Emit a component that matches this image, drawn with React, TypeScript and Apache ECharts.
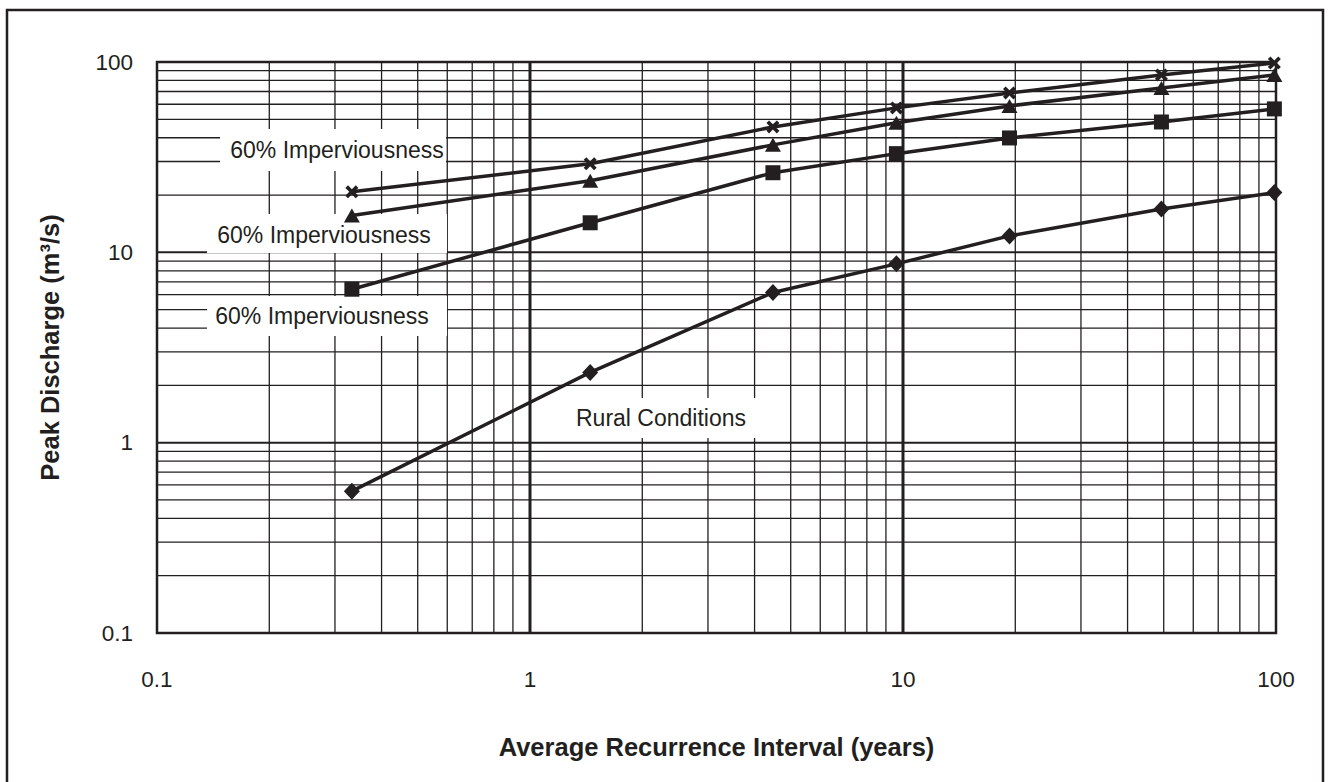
import React, { useEffect, useRef } from "react";
import * as echarts from "echarts";

// ---- Data ----
const recurrenceYears = [0.333, 1.45, 4.48, 9.6, 19.3, 49.3, 99];
const imperviousCross = [20.8, 29.2, 45.6, 57.4, 68.8, 85.5, 98.8];
const imperviousTriangle = [15.6, 23.8, 36.7, 47.9, 58.8, 73.1, 85.5];
const imperviousSquare = [6.4, 14.3, 26.2, 33, 39.9, 48.4, 56.7];
const ruralDiamond = [0.556, 2.34, 6.15, 8.7, 12.2, 16.9, 20.6];

// ---- Axis structure ----
const axisMin = 0.1;
const axisMax = 100;
const tickLabels = ["0.1", "1", "10", "100"];
const decadeStarts = [0.1, 1, 10];
const minorMultipliers = [2, 3, 4, 5, 6, 7, 8, 9];
const majorLines = [1, 10];

const INK = "#231f20";
const FONT = "'Liberation Sans', Arial, Helvetica, sans-serif";
const CROSS = "path://M2,0 L5,3 L8,0 L10,2 L7,5 L10,8 L8,10 L5,7 L2,10 L0,8 L3,5 L0,2 Z";

const minorLines = decadeStarts.flatMap((d) =>
  minorMultipliers.map((m) => Number((d * m).toPrecision(3)))
);

function gridSeries(values: number[], vertical: boolean, width: number) {
  return {
    type: "custom",
    silent: true,
    z: 1,
    data: values.map((v) => (vertical ? [v, 1] : [1, v])),
    renderItem: (_p: any, api: any) => {
      const v = api.value(vertical ? 0 : 1);
      const a = vertical ? api.coord([v, axisMin]) : api.coord([axisMin, v]);
      const b = vertical ? api.coord([v, axisMax]) : api.coord([axisMax, v]);
      return {
        type: "line",
        shape: { x1: a[0], y1: a[1], x2: b[0], y2: b[1] },
        style: { stroke: INK, lineWidth: width },
      };
    },
  };
}

function dataSeries(name: string, values: number[], symbol: string, size: number | number[]) {
  return {
    type: "line",
    name,
    z: 5,
    data: recurrenceYears.map((x, i) => [x, values[i]]),
    symbol,
    symbolSize: size,
    showAllSymbol: true,
    lineStyle: { color: INK, width: 3.5 },
    itemStyle: { color: INK, borderWidth: 0 },
    emphasis: { disabled: true },
  };
}

function labelBox(x: number, y: number, w: number, h: number, cx: number, cy: number, text: string) {
  return [
    {
      type: "rect",
      z: 3,
      silent: true,
      shape: { x, y, width: w, height: h },
      style: { fill: "#ffffff", stroke: null },
    },
    {
      type: "text",
      z: 4,
      silent: true,
      x: cx,
      y: cy,
      style: {
        text,
        fill: INK,
        fontSize: 23,
        fontFamily: FONT,
        align: "center",
        verticalAlign: "middle",
        textAlign: "center",
        textVerticalAlign: "middle",
      },
    },
  ];
}

export default function App() {
  const ref = useRef<HTMLDivElement>(null);

  useEffect(() => {
    if (!ref.current) return;
    const chart = echarts.init(ref.current, null, { renderer: "svg" });
    const labelFmt = (v: number) => tickLabels[Math.round(Math.log10(v)) + 1] ?? "";
    chart.setOption({
      animation: false,
      backgroundColor: "#ffffff",
      grid: {
        left: 157,
        top: 62,
        right: 54,
        bottom: 149,
        show: true,
        borderColor: INK,
        borderWidth: 2.5,
        backgroundColor: "transparent",
      },
      xAxis: {
        type: "log",
        logBase: 10,
        min: axisMin,
        max: axisMax,
        name: "Average Recurrence Interval (years)",
        nameLocation: "middle",
        nameGap: 101,
        nameTextStyle: { fontSize: 25.5, fontWeight: "bold", color: INK, fontFamily: FONT },
        axisLine: { show: false },
        axisTick: { show: false },
        splitLine: { show: false },
        axisLabel: { fontSize: 22.5, color: INK, fontFamily: FONT, margin: 35, formatter: labelFmt },
      },
      yAxis: {
        type: "log",
        logBase: 10,
        min: axisMin,
        max: axisMax,
        name: "Peak Discharge (m³/s)",
        nameLocation: "middle",
        nameGap: 94,
        nameTextStyle: { fontSize: 25.5, fontWeight: "bold", color: INK, fontFamily: FONT },
        axisLine: { show: false },
        axisTick: { show: false },
        splitLine: { show: false },
        axisLabel: {
          fontSize: 22.5,
          color: INK,
          fontFamily: FONT,
          margin: 24,
          padding: [8, 0, 0, 0],
          formatter: labelFmt,
        },
      },
      series: [
        gridSeries(minorLines, true, 1.3),
        gridSeries(minorLines, false, 1.3),
        gridSeries(majorLines, true, 3),
        gridSeries(majorLines, false, 2),
        dataSeries("60% Imperviousness (upper)", imperviousCross, CROSS, 13),
        dataSeries("60% Imperviousness (middle)", imperviousTriangle, "triangle", [16, 14]),
        dataSeries("60% Imperviousness (lower)", imperviousSquare, "rect", 15),
        dataSeries("Rural Conditions", ruralDiamond, "diamond", [16, 17]),
      ],
      graphic: {
        elements: [
          {
            type: "rect",
            z: 0,
            silent: true,
            shape: { x: 7, y: 10, width: 1316, height: 800 },
            style: { fill: "none", stroke: INK, lineWidth: 2.5 },
          },
          ...labelBox(220, 129, 226, 42, 337, 150, "60% Imperviousness"),
          ...labelBox(207, 214, 240, 39, 324, 235, "60% Imperviousness"),
          ...labelBox(207, 296, 240, 40, 322, 316, "60% Imperviousness"),
          ...labelBox(565, 398, 220, 40, 661, 418, "Rural Conditions"),
        ],
      },
    });
    return () => chart.dispose();
  }, []);

  return (
    <div
      ref={ref}
      style={{ position: "fixed", left: 0, top: 0, width: 1330, height: 782, background: "#fff" }}
    />
  );
}
